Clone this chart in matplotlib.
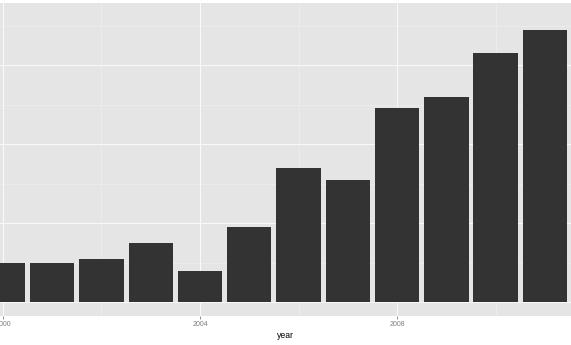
import numpy as np
import matplotlib
matplotlib.use('Agg')
import matplotlib.pyplot as plt
from matplotlib.ticker import MultipleLocator

years = [2000, 2001, 2002, 2003, 2004, 2005, 2006, 2007, 2008, 2009, 2010, 2011]
counts = [1008, 1008, 1100, 1500, 805, 1904, 3400, 3100, 4920, 5210, 6310, 6900]

plt.rcParams['font.family'] = ['Liberation Sans', 'DejaVu Sans']

fig = plt.figure(figsize=(5.71, 3.45), dpi=100)
# panel is cropped on the left and right like the original screenshot
ax = fig.add_axes([0, 29/345, 1, 313/345])
ax.set_facecolor('#E5E5E5')

ax.bar(years, counts, width=0.9, color='#333333', zorder=3)

ax.set_xlim(1999.94, 2011.53)
ax.set_ylim(-342, 7582)

ax.xaxis.set_major_locator(MultipleLocator(4))
ax.xaxis.set_minor_locator(MultipleLocator(2))
ax.yaxis.set_major_locator(MultipleLocator(2000))
ax.yaxis.set_minor_locator(MultipleLocator(1000))

ax.grid(which='major', color='#FAFAFA', linewidth=0.7, zorder=1)
ax.grid(which='minor', color='#F0F0F0', linewidth=0.45, zorder=1)
ax.set_axisbelow(True)

for s in ax.spines.values():
	s.set_visible(False)

ax.tick_params(axis='x', which='major', length=2.2, width=0.6, color='#7F7F7F',
	labelsize=5, labelcolor='#7F7F7F', pad=1.5)
ax.tick_params(axis='x', which='minor', length=0)
ax.tick_params(axis='y', which='both', length=0, labelleft=False)

ax.set_xlabel('year', fontsize=6.2, color='black', labelpad=2)

fig.savefig('out.png', dpi=100)
